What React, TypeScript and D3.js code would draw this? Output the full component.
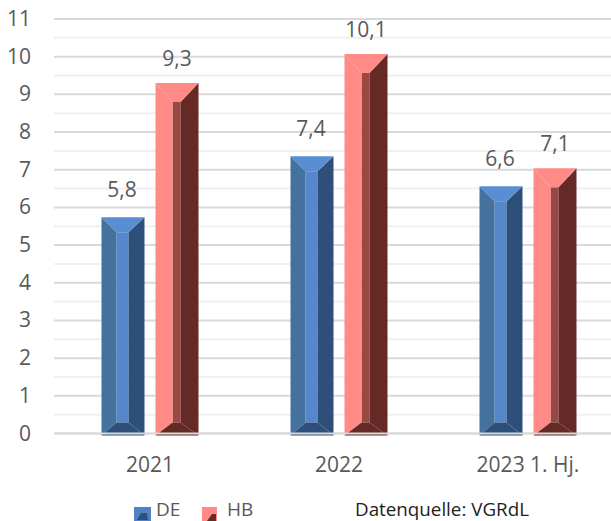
import React from "react";
import * as d3 from "d3";

const categories = ["2021", "2022", "2023 1. Hj."];
const seriesNames = ["DE", "HB"];
const deValues = [5.74, 7.36, 6.56];
const hbValues = [9.3, 10.07, 7.04];
const labelsDE = ["5,8", "7,4", "6,6"];
const labelsHB = ["9,3", "10,1", "7,1"];
const yTicks = d3.range(0, 12);
const minorTicks = d3.range(0.5, 11, 1);
const source = "Datenquelle: VGRdL";

const W = 611, H = 521;
const FONT = "'Open Sans', sans-serif";
const TEXT = "#595959";

const palette = {
  DE: { top: "#5a8ed2", left: "#44719f", center: "#5587cb", right: "#2f5079", bottom: "#2f5079" },
  HB: { top: "#ff8a86", left: "#ff8a86", center: "#9b4642", right: "#662a28", bottom: "#662a28" },
};

const y = d3.scaleLinear().domain([0, 11]).range([433.5, 19]);
const x0 = d3.scaleBand<string>().domain(categories).range([55.5, 622.5]);
const BAR_W = 43;
const GAP = 11;

function Bar({ x, value, name }: { x: number; value: number; name: "DE" | "HB" }) {
  const c = palette[name];
  const x1 = x + BAR_W;
  const top = y(value);
  const bot = y(0) + 2;
  const il = x + (name === "DE" ? 15 : 17);
  const ir = x1 - (name === "DE" ? 16 : 18);
  const it = top + (name === "DE" ? 15 : 19);
  const ib = y(0) - 11;
  const poly = (pts: number[][]) => pts.map((p) => p.join(",")).join(" ");
  return (
    <g filter="url(#soft)">
      <polygon points={poly([[il, it], [ir, it], [ir, ib], [il, ib]])} fill={c.center} />
      <polygon points={poly([[x, top], [il, it], [il, ib], [x, bot]])} fill={c.left} />
      <polygon points={poly([[x1, top], [ir, it], [ir, ib], [x1, bot]])} fill={c.right} />
      <polygon points={poly([[x, top], [x1, top], [ir, it], [il, it]])} fill={c.top} />
      <polygon points={poly([[x, bot], [x1, bot], [ir, ib], [il, ib]])} fill={c.bottom} />
    </g>
  );
}

function Legend({ x, name, color, dark }: { x: number; name: string; color: string; dark: string }) {
  const isDE = name === "DE";
  return (
    <g>
      <rect x={x} y={507} width={isDE ? 17 : 15} height={14} fill={color} />
      <polygon
        points={isDE
          ? `${x + 3},520 ${x + 7},513 ${x + 13},513 ${x + 14},520`
          : `${x + 5},521 ${x + 10},514 ${x + 14},514 ${x + 14},521`}
        fill={dark}
      />
      <text x={isDE ? x + 22 : x + 25} y={516.3} fontSize={19} fill={TEXT} fontFamily={FONT}>{name}</text>
    </g>
  );
}

export default function App() {
  const cx = (c: string) => (x0(c) as number) + x0.bandwidth() / 2;
  const barX = (c: string, i: number) =>
    i === 0 ? cx(c) - GAP / 2 - BAR_W : cx(c) + GAP / 2;
  return (
    <svg
      width={W}
      height={H}
      viewBox={`0 0 ${W} ${H}`}
      style={{ position: "absolute", left: 0, top: 0, background: "#fff" }}
    >
      <defs>
        <filter id="soft" x="-5%" y="-5%" width="110%" height="110%">
          <feGaussianBlur stdDeviation="0.45" />
        </filter>
      </defs>
      {minorTicks.map((t) => (
        <line key={t} x1={54} x2={W} y1={y(t)} y2={y(t)} stroke="#f0f0f0" strokeWidth={2} />
      ))}
      {yTicks.map((t) => (
        <line key={t} x1={54} x2={W} y1={y(t)} y2={y(t)} stroke="#d9d9d9" strokeWidth={2} />
      ))}
      {yTicks.map((t) => (
        <text key={t} x={31} y={y(t) + 7} textAnchor="end" fontSize={21} fill={TEXT} fontFamily={FONT}>
          {t}
        </text>
      ))}
      {categories.map((c, i) => (
        <g key={c}>
          <Bar x={barX(c, 0)} value={deValues[i]} name="DE" />
          <Bar x={barX(c, 1)} value={hbValues[i]} name="HB" />
          <text x={barX(c, 0) + BAR_W / 2 - 1} y={y(deValues[i]) - 20} textAnchor="middle" fontSize={21} fill={TEXT} fontFamily={FONT}>
            {labelsDE[i]}
          </text>
          <text x={barX(c, 1) + BAR_W / 2} y={y(hbValues[i]) - 17} textAnchor="middle" fontSize={21} fill={TEXT} fontFamily={FONT}>
            {labelsHB[i]}
          </text>
          <text x={cx(c)} y={472} textAnchor="middle" fontSize={21} fill={TEXT} fontFamily={FONT}>
            {c}
          </text>
        </g>
      ))}
      <line x1={54} x2={W} y1={y(0)} y2={y(0)} stroke="#d9d9d9" strokeWidth={2} />
      <Legend x={134} name={seriesNames[0]} color="#4f81c4" dark="#2f5079" />
      <Legend x={202} name={seriesNames[1]} color="#ff8a86" dark="#662a28" />
      <text x={355} y={516.4} fontSize={18.8} fill="#222" fontFamily={FONT}>{source}</text>
    </svg>
  );
}
